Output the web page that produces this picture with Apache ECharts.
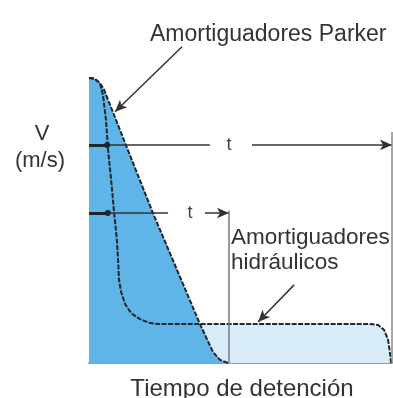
<!DOCTYPE html>
<html>
<head>
<meta charset="utf-8">
<script src="https://cdn.jsdelivr.net/npm/echarts/dist/echarts.min.js"></script>
<style>
  html, body { margin: 0; padding: 0; background: #fff; }
  #chart { width: 393px; height: 398px; }
</style>
</head>
<body>
<div id="chart"></div>
<script>
  // tiempo (0..10) y velocidad relativa (0..1)
  const parkerT = [0, 0.1, 0.2, 0.36, 0.5, 1.19, 2.11, 3.66, 4.09, 4.32, 4.59]
  const parkerV = [1.0, 0.999, 0.996, 0.982, 0.958, 0.772, 0.526, 0.137, 0.039, 0.011, 0]

  const hydT = [0, 0.1, 0.2, 0.36, 0.46, 0.56, 0.63, 0.73, 0.83, 0.92, 0.96, 0.99, 1.06, 1.19, 1.39, 1.68, 2.01, 2.28, 9.27, 9.54, 9.74, 9.87, 9.93, 9.97]
  const hydV = [1.0, 0.999, 0.996, 0.982, 0.940, 0.853, 0.747, 0.642, 0.526, 0.432, 0.361, 0.291, 0.249, 0.207, 0.175, 0.154, 0.140, 0.137, 0.137, 0.133, 0.116, 0.081, 0.039, 0]

  // cotas "t"
  const tLongV = 0.765
  const tShortV = 0.526
  const tShortEnd = 4.62
  const tMax = 10
  const vMax = 1.175 // deja sitio arriba para la flecha de Parker

  const parkerData = parkerT.map((t, i) => [t, parkerV[i]])
  const hydData = hydT.map((t, i) => [t, hydV[i]])

  const FONT = '"Liberation Sans", Arial, sans-serif'
  const INK = '#1b2631'
  const TXT = '#333'

  // segmento de markLine; arrow = punta al final
  function seg(a, b, arrow, style) {
    let start = { coord: a, symbol: 'none' }
    if (style) start.lineStyle = style
    return [start, { coord: b, symbol: arrow ? 'arrow' : 'none' }]
  }

  let myChart = echarts.init(document.getElementById('chart'), null, { renderer: 'canvas' })

  myChart.setOption({
    animation: false,
    grid: { left: 89, right: 1, top: 28, bottom: 35 },
    xAxis: {
      type: 'value',
      min: 0,
      max: tMax,
      axisLine: { show: true, lineStyle: { color: '#9c9c9c', width: 2 } },
      axisTick: { show: false },
      axisLabel: { show: false },
      splitLine: { show: false }
    },
    yAxis: {
      type: 'value',
      min: 0,
      max: vMax,
      show: false,
      splitLine: { show: false }
    },
    series: [
      {
        // área hidráulicos (debajo)
        type: 'line',
        data: hydData,
        symbol: 'none',
        z: 1,
        lineStyle: { width: 0 },
        areaStyle: { color: '#d8ebf8', opacity: 1 }
      },
      {
        // área Parker
        type: 'line',
        data: parkerData,
        symbol: 'none',
        z: 2,
        lineStyle: { width: 0 },
        areaStyle: { color: '#60b5e8', opacity: 1 }
      },
      {
        type: 'line',
        data: hydData,
        symbol: 'none',
        z: 3,
        lineStyle: { color: INK, width: 2, type: [5, 1.5] }
      },
      {
        type: 'line',
        data: parkerData,
        symbol: 'none',
        z: 4,
        clip: false,
        lineStyle: { color: INK, width: 2, type: [5, 1.5] },
        markLine: {
          silent: true,
          animation: false,
          label: { show: false },
          symbolSize: [8, 12],
          lineStyle: { color: '#333', width: 1.5, type: 'solid' },
          data: [
            // flecha Parker
            seg([3.07, 1.109], [0.86, 0.881], true),
            // flecha hidráulicos
            seg([6.77, 0.274], [5.58, 0.144], true),
            // cota larga
            seg([0, tLongV], [3.99, tLongV], false),
            seg([5.38, tLongV], [tMax, tLongV], true),
            // cota corta
            seg([0, tShortV], [2.61, tShortV], false),
            seg([3.83, tShortV], [tShortEnd, tShortV], true),
            // verticales
            seg([tShortEnd, 0.535], [tShortEnd, 0], false, { color: '#7a7a7a', width: 1.5, type: 'solid' }),
            seg([tMax - 0.02, 0.81], [tMax - 0.02, 0], false, { color: '#8a8a8a', width: 1.5, type: 'solid' }),
            // trazos gruesos en el origen de las cotas
            seg([0, tLongV], [0.6, tLongV], false, { color: INK, width: 3, type: 'solid' }),
            seg([0, tShortV], [0.62, tShortV], false, { color: INK, width: 3, type: 'solid' })
          ]
        },
        markPoint: {
          silent: true,
          animation: false,
          symbol: 'circle',
          symbolSize: 6,
          label: { show: false },
          itemStyle: { color: INK },
          data: [
            { coord: [0.6, tLongV] },
            { coord: [0.62, tShortV] }
          ]
        }
      }
    ],
    graphic: [
      { type: 'text', x: 150, y: 35, style: { text: 'Amortiguadores Parker', fontSize: 23, fontFamily: FONT, fill: TXT, textVerticalAlign: 'middle' } },
      { type: 'text', x: 42, y: 134, style: { text: 'V', fontSize: 22, fontFamily: FONT, fill: TXT, textAlign: 'center', textVerticalAlign: 'middle' } },
      { type: 'text', x: 40, y: 161, style: { text: '(m/s)', fontSize: 22, fontFamily: FONT, fill: TXT, textAlign: 'center', textVerticalAlign: 'middle' } },
      { type: 'text', x: 231, y: 238, style: { text: 'Amortiguadores', fontSize: 22.5, fontFamily: FONT, fill: TXT, textVerticalAlign: 'middle' } },
      { type: 'text', x: 231, y: 263, style: { text: 'hidráulicos', fontSize: 22.5, fontFamily: FONT, fill: TXT, textVerticalAlign: 'middle' } },
      { type: 'text', x: 229, y: 145, style: { text: 't', fontSize: 18, fontFamily: FONT, fill: '#444', textAlign: 'center', textVerticalAlign: 'middle' } },
      { type: 'text', x: 190, y: 213, style: { text: 't', fontSize: 18, fontFamily: FONT, fill: '#444', textAlign: 'center', textVerticalAlign: 'middle' } },
      { type: 'text', x: 242, y: 389, style: { text: 'Tiempo de detención', fontSize: 24, fontFamily: FONT, fill: TXT, textAlign: 'center', textVerticalAlign: 'middle' } }
    ]
  })
</script>
</body>
</html>
